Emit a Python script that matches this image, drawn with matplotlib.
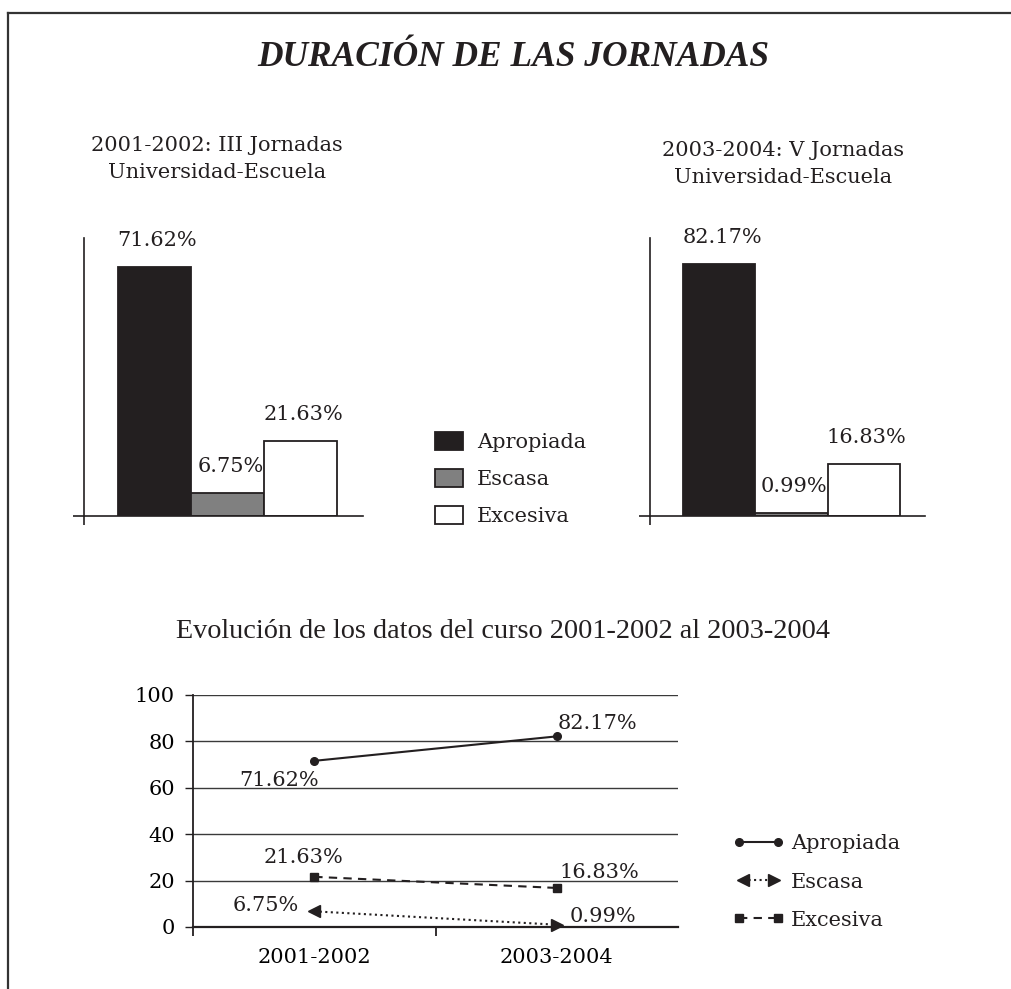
import matplotlib
matplotlib.use('Agg')
import matplotlib.pyplot as plt
from matplotlib.patches import Patch
from matplotlib.lines import Line2D
from matplotlib.legend_handler import HandlerBase, HandlerLine2D

# --- datos ---
categorias = ['Apropiada', 'Escasa', 'Excesiva']
cursos = ['2001-2002', '2003-2004']
valores_2002 = [71.62, 6.75, 21.63]
valores_2004 = [82.17, 0.99, 16.83]
subtitulo_2002 = '2001-2002: III Jornadas\nUniversidad-Escuela'
subtitulo_2004 = '2003-2004: V Jornadas\nUniversidad-Escuela'
titulo = 'DURACIÓN DE LAS JORNADAS'
titulo_evol = 'Evolución de los datos del curso 2001-2002 al 2003-2004'
yticks_evol = [0, 20, 40, 60, 80, 100]

INK = '#231f20'
colores_barra = [INK, '#808080', 'white']
plt.rcParams['font.family'] = ['DejaVu Serif']
plt.rcParams['text.color'] = INK
FS = 15

fig = plt.figure(figsize=(10.12, 9.89), dpi=100)

# marco de la figura
W, H = 1012, 989
fig.add_artist(Line2D([8 / W, 1], [1 - 13 / H, 1 - 13 / H], color='#333333', lw=1.6))
fig.add_artist(Line2D([8 / W, 8 / W], [0, 1 - 13 / H], color='#333333', lw=1.6))

fig.text(0.507, 1 - 57 / H, titulo, ha='center', va='center', fontsize=25.5,
         family='Liberation Serif', weight='bold', style='italic')


def barras(ax, valores, ymax, subt, sub_x, sub_y):
    xs = range(len(valores))
    ax.bar(xs, valores, width=1.0, color=colores_barra, edgecolor=INK, linewidth=1.3)
    ax.set_xlim(-0.96, 2.85)
    ax.set_ylim(0, ymax)
    for s in ['top', 'right']:
        ax.spines[s].set_visible(False)
    for s in ['left', 'bottom']:
        ax.spines[s].set_linewidth(1.2)
        ax.spines[s].set_color(INK)
    # pequeños cruces en el origen
    ax.set_yticks([0])
    ax.set_yticklabels([''])
    ax.set_xticks([-0.96])
    ax.set_xticklabels([''])
    ax.tick_params(axis='y', length=8, width=1.2, color=INK)
    ax.tick_params(axis='x', length=6.5, width=1.2, color=INK)
    for x, v in zip(xs, valores):
        ax.annotate(f'{v:.2f}%', (x, v), xytext=(2, 19), textcoords='offset points',
                    ha='center', va='center', fontsize=FS)
    fig.text(sub_x, sub_y, subt, ha='center', va='center', fontsize=FS, linespacing=1.55)


ax1 = fig.add_axes([84 / W, 1 - 516 / H, 279 / W, 278 / H])
barras(ax1, valores_2002, 80, subtitulo_2002, 217 / W, 1 - 159 / H)
ax2 = fig.add_axes([650 / W, 1 - 516 / H, 275 / W, 278 / H])
barras(ax2, valores_2004, 90.6, subtitulo_2004, 783 / W, 1 - 164 / H)

handles = [Patch(facecolor=c, edgecolor=INK, linewidth=1.3) for c in colores_barra]
fig.legend(handles, categorias, loc='center left', bbox_to_anchor=(435 / W, 1 - 479 / H),
           frameon=False, fontsize=FS, handlelength=1.35, handleheight=0.95,
           handletextpad=0.65, labelspacing=0.82, borderpad=0, borderaxespad=0)

# --- evolución ---
fig.text(503 / W, 1 - 631 / H, titulo_evol, ha='center', va='center', fontsize=20.3,
         family='Liberation Serif')

ax3 = fig.add_axes([193 / W, 1 - 927 / H, 485 / W, 232 / H])
ax3.set_xlim(-0.5, 1.5)
ax3.set_ylim(0, 100)
ax3.set_yticks(yticks_evol)
ax3.set_yticklabels([str(t) for t in yticks_evol], fontsize=FS)
for t in yticks_evol[1:]:
    ax3.axhline(t, color='#3a3a3a', lw=1.0, zorder=0)
for s in ['top', 'right']:
    ax3.spines[s].set_visible(False)
ax3.spines['left'].set_linewidth(1.3)
ax3.spines['bottom'].set_linewidth(1.6)
ax3.spines['left'].set_color(INK)
ax3.spines['bottom'].set_color(INK)
ax3.tick_params(axis='y', length=6, width=1.0, pad=7, color=INK)
ax3.set_xticks([-0.5, 0.5])
ax3.set_xticklabels(['', ''])
ax3.set_xticks([0, 1], minor=True)
ax3.set_xticklabels(cursos, minor=True, fontsize=FS)
ax3.tick_params(axis='x', which='major', length=6.5, width=1.3, color=INK)
ax3.tick_params(axis='x', which='minor', length=0, pad=15)

xs = [0, 1]
apropiada = [valores_2002[0], valores_2004[0]]
escasa = [valores_2002[1], valores_2004[1]]
excesiva = [valores_2002[2], valores_2004[2]]

ax3.plot(xs, apropiada, '-', color=INK, lw=1.5, marker='o', ms=5.5, zorder=3)
ax3.plot(xs, excesiva, '--', color=INK, lw=1.5, marker='s', ms=5.5, zorder=3,
         dashes=(4, 3))
ax3.plot(xs, escasa, ':', color=INK, lw=1.5, zorder=3)
for x, v, m in zip(xs, escasa, ['<', '>']):
    ax3.plot([x], [v], marker=m, ms=9, color=INK, ls='none', zorder=4, clip_on=False)

# desplazamientos de las etiquetas (puntos)
offs = {
    'apropiada': [(-25, -14), (29, 9)],
    'escasa': [(-35, 4), (33, 6)],
    'excesiva': [(-8, 14), (31, 11)],
}
for serie, vals in [('apropiada', apropiada), ('escasa', escasa), ('excesiva', excesiva)]:
    for x, v, o in zip(xs, vals, offs[serie]):
        ax3.annotate(f'{v:.2f}%', (x, v), xytext=o, textcoords='offset points',
                     ha='center', va='center', fontsize=FS, zorder=5)


class HandlerFlechas(HandlerBase):
    def create_artists(self, legend, orig_handle, xdescent, ydescent, width, height,
                       fontsize, trans):
        y = height / 2 - ydescent
        x0, x1 = -xdescent, width - xdescent
        linea = Line2D([x0 + 4, x1 - 4], [y, y], ls=':', color=INK, lw=1.5)
        m1 = Line2D([x0 + 4], [y], marker='<', ms=9, color=INK, ls='none')
        m2 = Line2D([x1 - 4], [y], marker='>', ms=9, color=INK, ls='none')
        for a in (linea, m1, m2):
            a.set_transform(trans)
        return [linea, m1, m2]


h_apr = Line2D([], [], color=INK, lw=1.5, marker='o', ms=5.5)
h_esc = Line2D([], [], color=INK, lw=1.5, ls=':')
h_exc = Line2D([], [], color=INK, lw=1.5, ls='--', dashes=(4, 3), marker='s', ms=5.5)
fig.legend([h_apr, h_esc, h_exc], categorias, loc='center left',
           bbox_to_anchor=(737 / W, 1 - 882 / H), frameon=False, fontsize=FS,
           numpoints=2, handlelength=2.05, handletextpad=0.55, labelspacing=0.92,
           borderpad=0, borderaxespad=0,
           handler_map={h_esc: HandlerFlechas(),
                        h_apr: HandlerLine2D(marker_pad=0.1, numpoints=2),
                        h_exc: HandlerLine2D(marker_pad=0.1, numpoints=2)})

fig.savefig('out.png', dpi=100)
